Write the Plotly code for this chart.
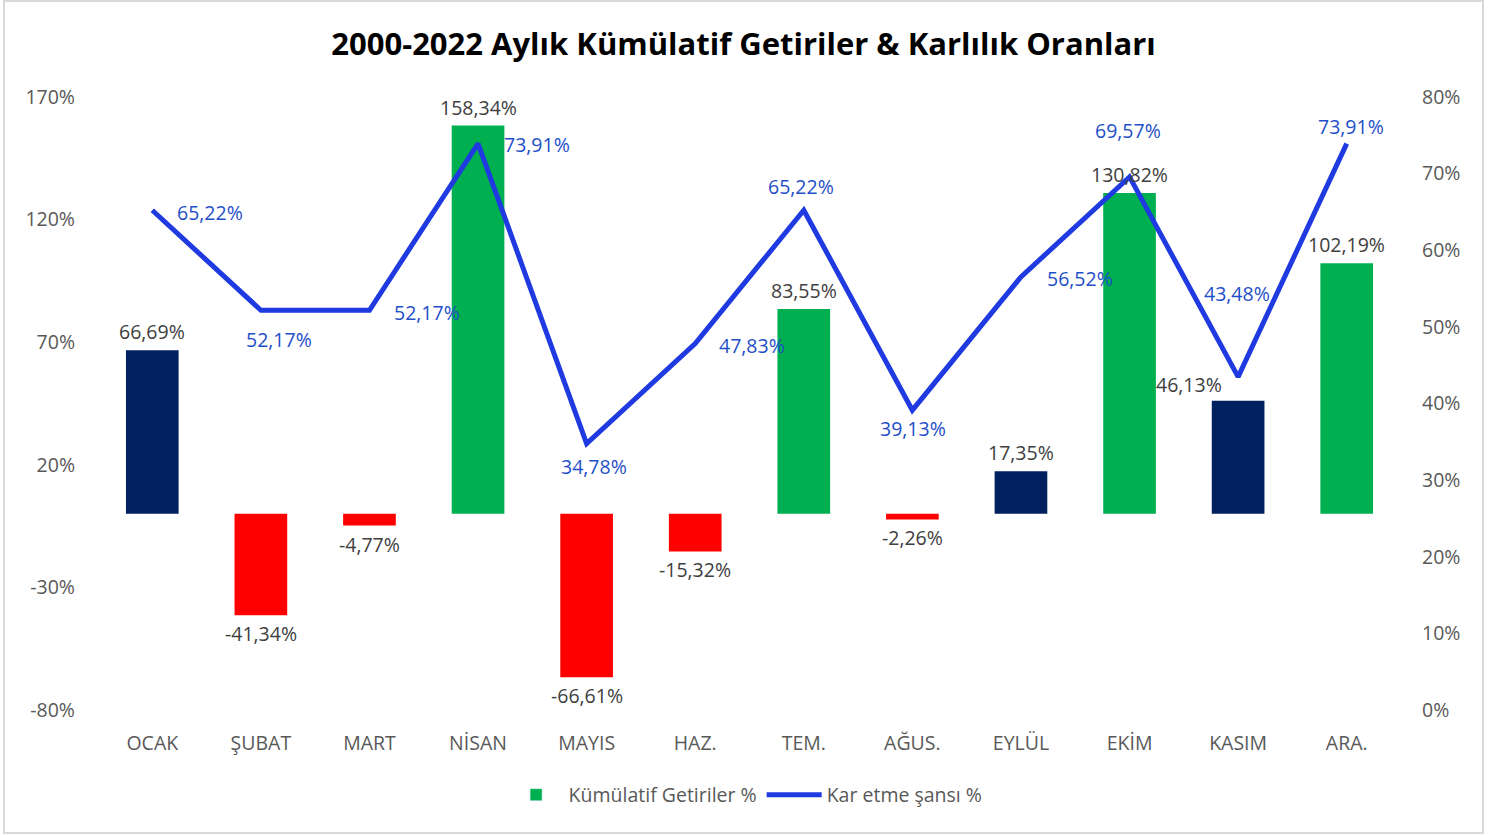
import plotly.graph_objects as go

# Veriler
aylar = ["OCAK", "ŞUBAT", "MART", "NİSAN", "MAYIS", "HAZ.", "TEM.",
         "AĞUS.", "EYLÜL", "EKİM", "KASIM", "ARA."]
kumulatif_getiri = [66.69, -41.34, -4.77, 158.34, -66.61, -15.32, 83.55,
                    -2.26, 17.35, 130.82, 46.13, 102.19]
kar_sansi = [65.22, 52.17, 52.17, 73.91, 34.78, 47.83, 65.22,
             39.13, 56.52, 69.57, 43.48, 73.91]
sol_eksen = [-80, -30, 20, 70, 120, 170]
sag_eksen = [0, 10, 20, 30, 40, 50, 60, 70, 80]

# Stil
YESIL = "#00B050"
LACIVERT = "#002060"
KIRMIZI = "#FF0000"
MAVI = "#1F3AE0"
ETIKET_MAVI = "#1F4FC8"
GRI = "#595959"
KOYU_GRI = "#404040"
FONT = "Open Sans"
YAZI = 19.5

bar_renkleri = [LACIVERT, KIRMIZI, KIRMIZI, YESIL, KIRMIZI, KIRMIZI, YESIL,
                KIRMIZI, LACIVERT, YESIL, LACIVERT, YESIL]

# çizgi etiketlerinin noktaya göre kaydırması (px)
cizgi_kaydir = [(58, -2), (18, -29), (58, -2), (59, -1), (7, -23), (57, -2),
                (-3, 24), (1, -18), (59, -2), (-2, 46), (-1, 83), (4, 17)]


def yuzde(v):
    return f"{v:.2f}%".replace(".", ",")


W, H = 1498, 836
L, R, T, B = 98, 97, 97, 126

fig = go.Figure()

fig.add_trace(
    go.Bar(
        x=aylar,
        y=kumulatif_getiri,
        marker=dict(color=bar_renkleri, line=dict(width=0)),
        width=0.485,
        showlegend=False,
        name="Kümülatif Getiriler %",
    )
)

# lejant için
fig.add_trace(
    go.Bar(
        x=[None],
        y=[None],
        marker_color=YESIL,
        name="Kümülatif Getiriler %",
    )
)

fig.add_trace(
    go.Scatter(
        x=aylar,
        y=kar_sansi,
        mode="lines",
        line=dict(color=MAVI, width=5),
        name="Kar etme şansı %",
        yaxis="y2",
    )
)

annotations = []

# çubuk etiketleri
for i, (ay, v) in enumerate(zip(aylar, kumulatif_getiri)):
    if i == 10:  # KASIM: sola kaydırılmış
        a = dict(xshift=-49, yshift=16, yanchor="middle")
    elif v >= 0:
        a = dict(yshift=3, yanchor="bottom")
    else:
        a = dict(yshift=-3, yanchor="top")
    annotations.append(
        dict(
            x=ay, y=v, xref="x", yref="y", text=yuzde(v), showarrow=False,
            font=dict(color=KOYU_GRI, size=YAZI, family=FONT), **a,
        )
    )

# çizgi etiketleri
for ay, v, (dx, dy) in zip(aylar, kar_sansi, cizgi_kaydir):
    annotations.append(
        dict(
            x=ay, y=v, xref="x", yref="y2", text=yuzde(v), showarrow=False,
            xshift=dx, yshift=dy,
            font=dict(color=ETIKET_MAVI, size=YAZI, family=FONT),
        )
    )

pw, ph = W - L - R, H - T - B

fig.update_layout(
    width=W,
    height=H,
    margin=dict(l=L, r=R, t=T, b=B),
    paper_bgcolor="white",
    plot_bgcolor="white",
    barmode="overlay",
    font=dict(family=FONT, color=GRI, size=YAZI),
    title=dict(
        text="<b>2000-2022 Aylık Kümülatif Getiriler & Karlılık Oranları</b>",
        x=743.5 / W,
        xanchor="center",
        y=1 - 44 / H,
        yanchor="middle",
        font=dict(family=FONT, size=31, color="black"),
    ),
    xaxis=dict(
        showgrid=False,
        showline=False,
        zeroline=False,
        ticks="",
        ticklabelstandoff=19,
        tickfont=dict(size=YAZI, color=GRI),
    ),
    yaxis=dict(
        range=[-80, 170],
        tickmode="array",
        tickvals=sol_eksen,
        ticktext=[f"{v}%" for v in sol_eksen],
        showgrid=False,
        zeroline=False,
        showline=False,
        ticklabelstandoff=22,
        tickfont=dict(size=YAZI, color=GRI),
    ),
    yaxis2=dict(
        range=[0, 80],
        tickmode="array",
        tickvals=sag_eksen,
        ticktext=[f"{v}%" for v in sag_eksen],
        overlaying="y",
        side="right",
        showgrid=False,
        zeroline=False,
        showline=False,
        ticklabelstandoff=20,
        tickfont=dict(size=YAZI, color=GRI),
    ),
    legend=dict(
        orientation="h",
        x=0.497,
        xanchor="center",
        y=(ph + T - 795) / ph,
        yanchor="middle",
        itemwidth=55,
        font=dict(size=YAZI, color=GRI),
    ),
    annotations=annotations,
    shapes=[
        dict(
            type="rect", xref="paper", yref="paper",
            x0=(4 - L) / pw, x1=(1483 - L) / pw,
            y0=(ph + T - 833) / ph, y1=(ph + T - 1) / ph,
            line=dict(color="#D9D9D9", width=2),
            fillcolor="rgba(0,0,0,0)",
            layer="below",
        )
    ],
)

fig.write_html(
    "out.html",
    config={"displayModeBar": False},
    post_script="document.body.style.margin = '0';",
)
